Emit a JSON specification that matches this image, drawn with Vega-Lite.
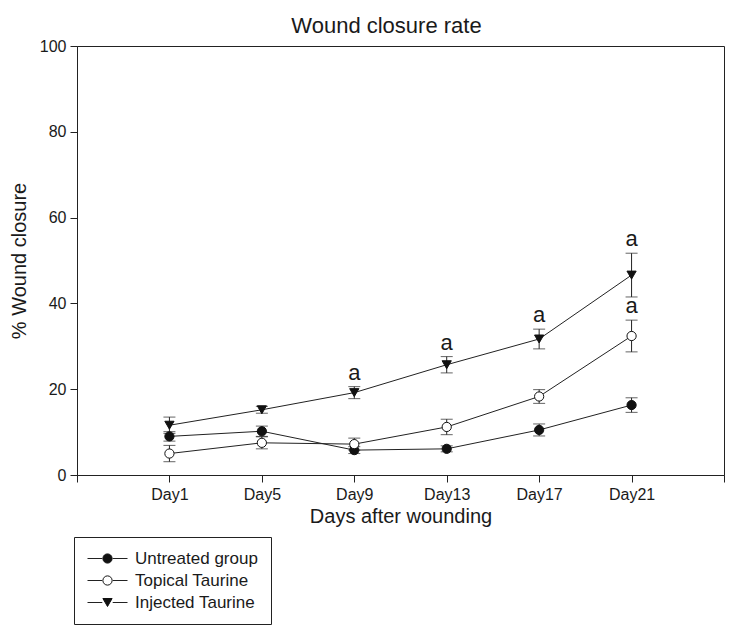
{
  "$schema": "https://vega.github.io/schema/vega-lite/v6.json",
  "width": 647,
  "height": 429,
  "autosize": {"type": "none"},
  "padding": {"left": 77, "top": 46, "right": 16, "bottom": 161},
  "background": "white",
  "title": {"text": "Wound closure rate", "fontSize": 22, "fontWeight": "normal", "font": "Liberation Sans", "color": "#1a1a1a", "offset": 0, "dx": -14},
  "config": {
    "font": "Liberation Sans",
    "view": {"stroke": "#222", "strokeWidth": 1},
    "axis": {"domainColor": "#222", "tickColor": "#222", "labelColor": "#1a1a1a", "titleColor": "#1a1a1a", "labelFont": "Liberation Sans", "titleFont": "Liberation Sans", "titleFontWeight": "normal", "grid": false, "tickSize": 7, "labelFontSize": 16, "titleFontSize": 20},
    "legend": {"labelFont": "Liberation Sans"}
  },
  "data": {"values": [
    {"group": "Untreated group", "day": 1, "mean": 9.0, "lo": 7.9, "hi": 10.1, "sig": ""},
    {"group": "Untreated group", "day": 5, "mean": 10.2, "lo": 9.0, "hi": 11.4, "sig": ""},
    {"group": "Untreated group", "day": 9, "mean": 5.8, "lo": 5.0, "hi": 6.6, "sig": ""},
    {"group": "Untreated group", "day": 13, "mean": 6.1, "lo": 5.4, "hi": 6.8, "sig": ""},
    {"group": "Untreated group", "day": 17, "mean": 10.5, "lo": 9.1, "hi": 11.9, "sig": ""},
    {"group": "Untreated group", "day": 21, "mean": 16.3, "lo": 14.6, "hi": 18.0, "sig": ""},
    {"group": "Topical Taurine", "day": 1, "mean": 5.0, "lo": 3.1, "hi": 6.9, "sig": ""},
    {"group": "Topical Taurine", "day": 5, "mean": 7.5, "lo": 6.1, "hi": 8.9, "sig": ""},
    {"group": "Topical Taurine", "day": 9, "mean": 7.2, "lo": 5.8, "hi": 8.6, "sig": ""},
    {"group": "Topical Taurine", "day": 13, "mean": 11.2, "lo": 9.4, "hi": 13.0, "sig": ""},
    {"group": "Topical Taurine", "day": 17, "mean": 18.3, "lo": 16.7, "hi": 19.9, "sig": ""},
    {"group": "Topical Taurine", "day": 21, "mean": 32.4, "lo": 28.7, "hi": 36.1, "sig": "a"},
    {"group": "Injected Taurine", "day": 1, "mean": 11.6, "lo": 9.7, "hi": 13.5, "sig": ""},
    {"group": "Injected Taurine", "day": 5, "mean": 15.2, "lo": 14.4, "hi": 16.0, "sig": ""},
    {"group": "Injected Taurine", "day": 9, "mean": 19.2, "lo": 17.8, "hi": 20.6, "sig": "a"},
    {"group": "Injected Taurine", "day": 13, "mean": 25.7, "lo": 23.8, "hi": 27.6, "sig": "a"},
    {"group": "Injected Taurine", "day": 17, "mean": 31.7, "lo": 29.4, "hi": 34.0, "sig": "a"},
    {"group": "Injected Taurine", "day": 21, "mean": 46.6, "lo": 41.5, "hi": 51.7, "sig": "a"}
  ]},
  "encoding": {
    "x": {"field": "day", "type": "quantitative", "scale": {"domain": [-3, 25], "nice": false, "zero": false},
      "axis": {"values": [-3, 1, 5, 9, 13, 17, 21, 25], "labelExpr": "datum.value < 0 || datum.value > 21 ? '' : 'Day' + datum.value", "title": "Days after wounding", "labelPadding": 4, "titlePadding": 4}}
  },
  "layer": [
    {
      "mark": {"type": "line", "strokeWidth": 1},
      "encoding": {
        "y": {"field": "mean", "type": "quantitative", "scale": {"domain": [0, 100], "nice": false},
          "axis": {"values": [0, 20, 40, 60, 80, 100], "title": "% Wound closure", "labelPadding": 4, "titlePadding": 10}},
        "color": {"field": "group", "type": "nominal",
          "sort": ["Untreated group", "Topical Taurine", "Injected Taurine"],
          "scale": {"range": ["#222", "#222", "#222"]},
          "legend": {"title": null, "orient": "none", "legendX": -3, "legendY": 491, "strokeColor": "#222", "padding": 13, "labelFontSize": 17, "labelColor": "#1a1a1a", "symbolType": "M-1,0L-0.26,0M0.26,0L1,0", "symbolSize": 1600, "symbolStrokeWidth": 1, "symbolStrokeColor": "#222", "clipHeight": 17, "rowPadding": 4, "labelOffset": 7}}
      }
    },
    {
      "mark": {"type": "rule", "color": "#222", "strokeWidth": 1},
      "encoding": {
        "y": {"field": "lo", "type": "quantitative"},
        "y2": {"field": "hi"}
      }
    },
    {
      "mark": {"type": "tick", "orient": "horizontal", "color": "#222", "size": 12, "thickness": 1},
      "encoding": {"y": {"field": "lo", "type": "quantitative"}}
    },
    {
      "mark": {"type": "tick", "orient": "horizontal", "color": "#222", "size": 12, "thickness": 1},
      "encoding": {"y": {"field": "hi", "type": "quantitative"}}
    },
    {
      "mark": {"type": "point", "filled": true, "stroke": "#111", "strokeWidth": 1, "opacity": 1, "size": 85},
      "encoding": {
        "y": {"field": "mean", "type": "quantitative"},
        "shape": {"field": "group", "type": "nominal",
          "scale": {"domain": ["Untreated group", "Topical Taurine", "Injected Taurine"], "range": ["circle", "circle", "triangle-down"]},
          "legend": {"title": null, "orient": "none", "legendX": 9, "legendY": 491, "padding": 13, "labelFontSize": 17, "labelExpr": "''", "symbolSize": 85, "symbolStrokeWidth": 1, "clipHeight": 17, "rowPadding": 4, "labelOffset": 7}},
        "fill": {"field": "group", "type": "nominal",
          "scale": {"domain": ["Untreated group", "Topical Taurine", "Injected Taurine"], "range": ["#111", "white", "#111"]},
          "legend": null}
      }
    },
    {
      "transform": [{"filter": "datum.sig === 'a'"}],
      "mark": {"type": "text", "fontSize": 22, "color": "#1a1a1a", "baseline": "alphabetic", "dy": -7, "font": "Liberation Sans"},
      "encoding": {
        "y": {"field": "hi", "type": "quantitative"},
        "text": {"field": "sig"}
      }
    }
  ]
}
